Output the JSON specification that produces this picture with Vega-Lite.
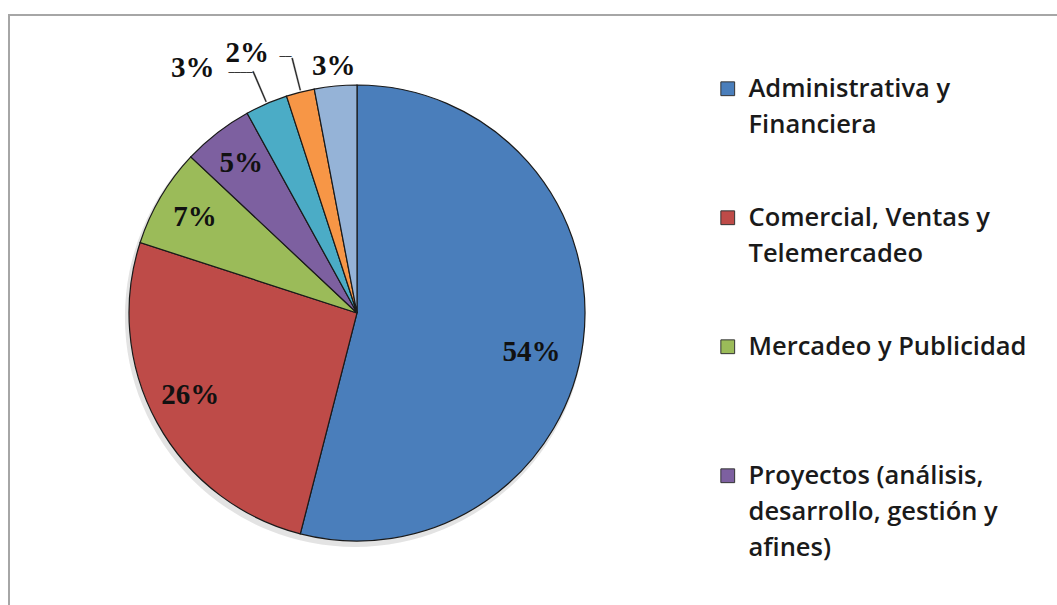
{
  "$schema": "https://vega.github.io/schema/vega-lite/v6.json",
  "autosize": "none",
  "padding": {"left": 9, "top": 15, "right": 0, "bottom": 0},
  "width": 1060,
  "height": 600,
  "background": "white",
  "config": {
    "view": {"stroke": "#a6a6a6", "strokeWidth": 2},
    "style": {"guide-label": {"lineHeight": 36}},
    "text": {"font": "Liberation Serif", "fontWeight": "bold", "fontSize": 29, "color": "#111111"}
  },
  "data": {
    "values": [
      {"area": "Administrativa y Financiera", "pct": 54, "orden": 1},
      {"area": "Comercial, Ventas y Telemercadeo", "pct": 26, "orden": 2},
      {"area": "Mercadeo y Publicidad", "pct": 7, "orden": 3},
      {"area": "Proyectos (análisis, desarrollo, gestión y afines)", "pct": 5, "orden": 4},
      {"area": "Tecnología", "pct": 3, "orden": 5},
      {"area": "Recursos Humanos", "pct": 2, "orden": 6},
      {"area": "Otros", "pct": 3, "orden": 7}
    ]
  },
  "transform": [
    {"stack": "pct", "groupby": [], "sort": [{"field": "orden", "order": "ascending"}], "as": ["t0", "t1"]},
    {"calculate": "(datum.t0 + datum.t1) / 2", "as": "tmid"},
    {"calculate": "datum.tmid + 0.07", "as": "tmid2"},
    {"calculate": "datum.pct + '%'", "as": "etiqueta"}
  ],
  "encoding": {
    "x": {"value": 348},
    "y": {"value": 298}
  },
  "layer": [
    {
      "transform": [{"filter": "datum.orden == 1"}],
      "mark": {"type": "arc", "outerRadius": 230, "fill": "#9a9a9a", "opacity": 0.28},
      "encoding": {"x": {"value": 346}, "y": {"value": 302}}
    },
    {
      "mark": {"type": "arc", "outerRadius": 228, "stroke": "#1a1a1a", "strokeWidth": 1.2},
      "encoding": {
        "theta": {"field": "t0", "type": "quantitative", "scale": {"domain": [0, 100]}},
        "theta2": {"field": "t1"},
        "color": {
          "field": "area",
          "type": "nominal",
          "scale": {
            "domain": [
              "Administrativa y Financiera",
              "Comercial, Ventas y Telemercadeo",
              "Mercadeo y Publicidad",
              "Proyectos (análisis, desarrollo, gestión y afines)",
              "Tecnología",
              "Recursos Humanos",
              "Otros"
            ],
            "range": ["#4a7ebb", "#be4b48", "#9bbb59", "#7d60a0", "#4bacc6", "#f79646", "#95b3d7"]
          },
          "legend": {
            "title": null,
            "orient": "none",
            "legendX": 706,
            "legendY": 61,
            "padding": 0,
            "values": [
              "Administrativa y Financiera",
              "Comercial, Ventas y Telemercadeo",
              "Mercadeo y Publicidad",
              "Proyectos (análisis, desarrollo, gestión y afines)"
            ],
            "symbolType": "square",
            "symbolSize": 190,
            "symbolStrokeColor": "#333333",
            "symbolStrokeWidth": 1,
            "symbolOpacity": 1,
            "labelFont": "Open Sans",
            "labelFontWeight": 600,
            "labelFontSize": 25.5,
            "labelColor": "#1a1a1a",
            "labelOffset": 8,
            "labelLimit": 400,
            "labelBaseline": "middle",
            "rowPadding": 66,
            "labelExpr": "datum.label == 'Administrativa y Financiera' ? ['Administrativa y', 'Financiera'] : datum.label == 'Comercial, Ventas y Telemercadeo' ? [' Comercial, Ventas y', 'Telemercadeo'] : datum.label == 'Mercadeo y Publicidad' ? [' Mercadeo y Publicidad', ''] : ['Proyectos (análisis,', 'desarrollo, gestión y', 'afines)']"
          }
        }
      }
    },
    {
      "transform": [{"filter": "datum.orden == 5 || datum.orden == 6"}],
      "mark": {"type": "arc", "innerRadius": 230, "outerRadius": 263, "fill": "#222222", "stroke": "#222222", "strokeWidth": 0.4},
      "encoding": {
        "theta": {"field": "tmid", "type": "quantitative", "scale": {"domain": [0, 100]}},
        "theta2": {"field": "tmid2"}
      }
    },
    {
      "transform": [{"filter": "datum.orden == 5"}],
      "mark": {"type": "text", "text": "────", "font": "DejaVu Sans Mono", "fontWeight": "normal", "fontSize": 10, "radius": 263, "dx": -12, "dy": 1, "color": "#222222"},
      "encoding": {"theta": {"field": "tmid", "type": "quantitative", "scale": {"domain": [0, 100]}}}
    },
    {
      "transform": [{"filter": "datum.orden == 6"}],
      "mark": {"type": "text", "text": "──", "font": "DejaVu Sans Mono", "fontWeight": "normal", "fontSize": 10, "radius": 263, "dx": -6, "dy": -1, "color": "#222222"},
      "encoding": {"theta": {"field": "tmid", "type": "quantitative", "scale": {"domain": [0, 100]}}}
    },
    {
      "transform": [{"filter": "datum.orden == 1"}],
      "mark": {"type": "text", "radius": 179, "dx": -3, "dy": 17},
      "encoding": {"theta": {"field": "tmid", "type": "quantitative", "scale": {"domain": [0, 100]}}, "text": {"field": "etiqueta"}}
    },
    {
      "transform": [{"filter": "datum.orden == 2"}],
      "mark": {"type": "text", "radius": 179, "dx": -10, "dy": -4},
      "encoding": {"theta": {"field": "tmid", "type": "quantitative", "scale": {"domain": [0, 100]}}, "text": {"field": "etiqueta"}}
    },
    {
      "transform": [{"filter": "datum.orden == 3"}],
      "mark": {"type": "text", "radius": 179, "dx": -8, "dy": -5},
      "encoding": {"theta": {"field": "tmid", "type": "quantitative", "scale": {"domain": [0, 100]}}, "text": {"field": "etiqueta"}}
    },
    {
      "transform": [{"filter": "datum.orden == 4"}],
      "mark": {"type": "text", "radius": 179, "dx": -6, "dy": -9},
      "encoding": {"theta": {"field": "tmid", "type": "quantitative", "scale": {"domain": [0, 100]}}, "text": {"field": "etiqueta"}}
    },
    {
      "transform": [{"filter": "datum.orden == 5"}],
      "mark": {"type": "text", "radius": 260, "dx": -61, "dy": -6},
      "encoding": {"theta": {"field": "tmid", "type": "quantitative", "scale": {"domain": [0, 100]}}, "text": {"field": "etiqueta"}}
    },
    {
      "transform": [{"filter": "datum.orden == 6"}],
      "mark": {"type": "text", "radius": 260, "dx": -45, "dy": -8},
      "encoding": {"theta": {"field": "tmid", "type": "quantitative", "scale": {"domain": [0, 100]}}, "text": {"field": "etiqueta"}}
    },
    {
      "transform": [{"filter": "datum.orden == 7"}],
      "mark": {"type": "text", "radius": 248},
      "encoding": {"theta": {"field": "tmid", "type": "quantitative", "scale": {"domain": [0, 100]}}, "text": {"field": "etiqueta"}}
    }
  ]
}
